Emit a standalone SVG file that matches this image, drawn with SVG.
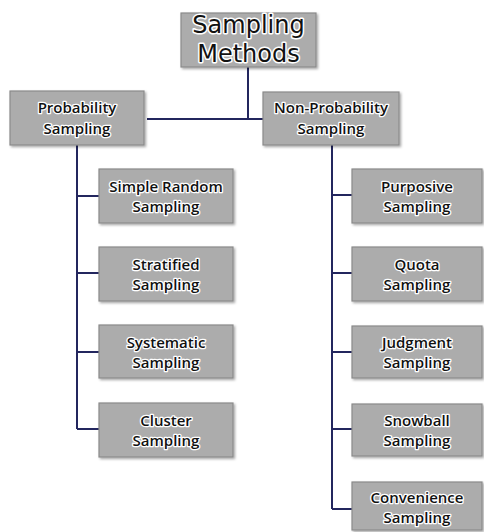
<svg xmlns="http://www.w3.org/2000/svg" width="484" height="532" viewBox="0 0 484 532">
<defs>
<filter id="sh" x="-10%" y="-10%" width="130%" height="130%">
<feDropShadow dx="1.5" dy="1.5" stdDeviation="1" flood-color="#000" flood-opacity="0.35"/>
</filter>
</defs>
<style>
.box{fill:#acacac;stroke:#8a8a8a;stroke-width:1.2;filter:url(#sh)}
.t{font-family:"Open Sans","Liberation Sans",sans-serif;font-size:15px;font-weight:600;fill:#111;stroke:#fff;stroke-width:2.6;paint-order:stroke;stroke-linejoin:round;text-anchor:middle}
.tt{font-family:"DejaVu Sans","Liberation Sans",sans-serif;font-size:24px;font-weight:normal;stroke-width:3}
.c{stroke:#23265e;stroke-width:2;fill:none}
</style>
<rect width="484" height="532" fill="#fff"/>
<g id="connectors">
<path class="c" d="M248 67V119M147 119H263"/>
<path class="c" d="M77 145V429M77 196H99M77 273H99M77 352H99M77 429H99"/>
<path class="c" d="M332 145V509M332 195H352M332 273H352M332 352H352M332 429H352M332 509H352"/>
</g>
<g id="root"><rect class="box" x="181" y="13" width="135" height="54"/><text class="t tt" x="248.5" y="33">Sampling</text><text class="t tt" x="248.5" y="62">Methods</text></g>
<g id="prob"><rect class="box" x="10" y="91" width="134" height="54"/><text class="t" x="77" y="113">Probability</text><text class="t" x="77" y="134">Sampling</text></g>
<g id="nonprob"><rect class="box" x="263" y="92" width="136" height="53"/><text class="t" x="331" y="113">Non-Probability</text><text class="t" x="331" y="134">Sampling</text></g>
<g id="simple"><rect class="box" x="99" y="169" width="134" height="54"/><text class="t" x="166" y="192">Simple Random</text><text class="t" x="166" y="212">Sampling</text></g>
<g id="stratified"><rect class="box" x="99" y="247" width="134" height="54"/><text class="t" x="166" y="270">Stratified</text><text class="t" x="166" y="290">Sampling</text></g>
<g id="systematic"><rect class="box" x="99" y="325" width="134" height="53"/><text class="t" x="166" y="348">Systematic</text><text class="t" x="166" y="368">Sampling</text></g>
<g id="cluster"><rect class="box" x="99" y="403" width="134" height="54"/><text class="t" x="166" y="426">Cluster</text><text class="t" x="166" y="446">Sampling</text></g>
<g id="purposive"><rect class="box" x="352" y="169" width="130" height="54"/><text class="t" x="417" y="192">Purposive</text><text class="t" x="417" y="212">Sampling</text></g>
<g id="quota"><rect class="box" x="352" y="247" width="130" height="54"/><text class="t" x="417" y="270">Quota</text><text class="t" x="417" y="290">Sampling</text></g>
<g id="judgment"><rect class="box" x="352" y="326" width="130" height="52"/><text class="t" x="417" y="348">Judgment</text><text class="t" x="417" y="368">Sampling</text></g>
<g id="snowball"><rect class="box" x="352" y="404" width="130" height="52"/><text class="t" x="417" y="426">Snowball</text><text class="t" x="417" y="446">Sampling</text></g>
<g id="convenience"><rect class="box" x="352" y="482" width="130" height="48"/><text class="t" x="417" y="503">Convenience</text><text class="t" x="417" y="523">Sampling</text></g>
</svg>
